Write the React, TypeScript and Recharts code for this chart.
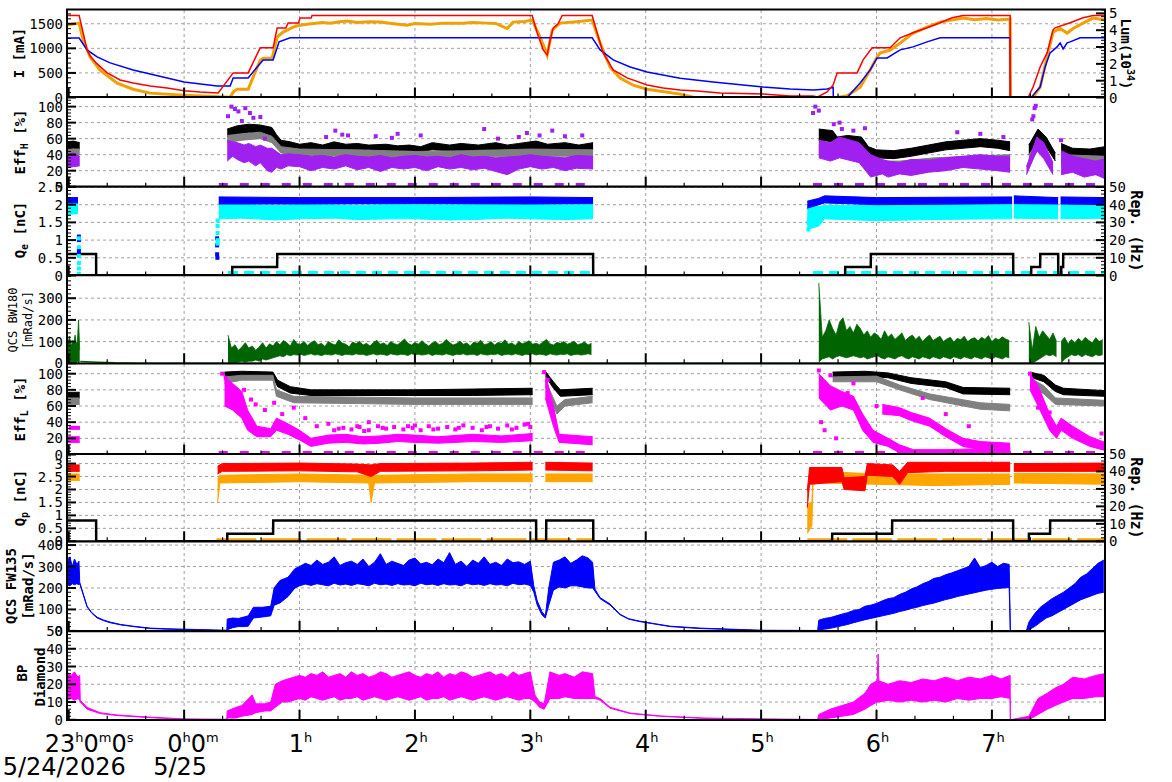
import React from 'react';
import { ComposedChart, Line, Area, XAxis, YAxis, CartesianGrid } from 'recharts';

type Pt = [number, number | null];
type Rg = [number, number | null, number | null];

// ---------------- time axis ----------------
const X_DOMAIN: [number, number] = [-1.015, 7.98];
const HOURS = [-1, 0, 1, 2, 3, 4, 5, 6, 7];
const GRID_HOURS = [0, 1, 2, 3, 4, 5, 6, 7];
const X_TICKS = [-1, -2 / 3, -1 / 3, 0, 1 / 3, 2 / 3, 1, 4 / 3, 5 / 3, 2, 7 / 3, 8 / 3, 3, 10 / 3, 11 / 3, 4, 13 / 3, 14 / 3, 5, 16 / 3, 17 / 3, 6, 19 / 3, 20 / 3, 7, 22 / 3, 23 / 3];
const HOUR_TEXT: [string, string][][] = [
  [['23', 'h'], ['0', 'm'], ['0', 's']],
  [['0', 'h'], ['0', 'm']],
  [['1', 'h']], [['2', 'h']], [['3', 'h']], [['4', 'h']], [['5', 'h']], [['6', 'h']], [['7', 'h']],
];
const DATE_TEXT = ['5/24/2026', '5/25'];

// ---------------- panel 1 : I [mA] / Lum ----------------
const lerCurrent: Pt[] = [
  [-1.015, 1670], [-0.91, 1670], [-0.875, 1316], [-0.841, 969], [-0.815, 850], [-0.763, 704], [-0.667, 500], [-0.555, 357], [-0.442, 296], [-0.295, 235], [-0.147, 194], [0, 139], [0.139, 112], [0.295, 92], [0.425, 500], [0.555, 500], [0.659, 1010], [0.771, 1010], [0.806, 1412], [0.88, 1412], [0.901, 1514], [0.99, 1514], [1.005, 1616], [1.1, 1616], [1.109, 1669],
  [3.016, 1669], [3.059, 1316], [3.111, 969], [3.146, 867], [3.172, 1173], [3.198, 1412], [3.24, 1500], [3.276, 1669], [3.536, 1669], [3.579, 1316], [3.631, 908], [3.718, 561], [3.839, 398], [4.012, 255], [4.151, 194], [4.298, 155], [4.445, 133], [4.645, 92], [5.017, 71], [5.251, 31], [5.451, 31], [5.49, 12],
  [5.572, 112], [5.624, 255], [5.659, 500], [5.832, 500], [5.884, 765], [5.962, 1010], [6.118, 1010], [6.205, 1214], [6.317, 1316], [6.438, 1418], [6.551, 1520], [6.655, 1622], [6.75, 1669], [7.158, 1669], [7.16, 0], [7.314, 0], [7.357, 214], [7.418, 622], [7.478, 908], [7.53, 1377], [7.548, 1418], [7.678, 1520], [7.79, 1622], [7.877, 1669], [7.98, 1669],
];
const herCurrent: Pt[] = [
  [-1.015, 1210], [-0.91, 1210], [-0.841, 969], [-0.754, 826], [-0.641, 704], [-0.442, 561], [-0.147, 398], [0, 316], [0.286, 235], [0.399, 235], [0.425, 398], [0.555, 398], [0.633, 622], [0.685, 765], [0.771, 765], [0.823, 1132], [0.919, 1214],
  [3.536, 1214], [3.605, 969], [3.718, 765], [3.865, 622], [4.012, 520], [4.298, 390], [4.584, 316], [5.017, 214], [5.251, 173], [5.451, 153], [5.572, 173], [5.624, 210], [5.626, 0], [5.745, 0],
  [5.858, 296], [5.945, 561], [6.005, 806], [6.092, 806], [6.205, 969], [6.317, 1030], [6.438, 1132], [6.551, 1214], [7.158, 1214], [7.16, 0], [7.34, 0], [7.418, 214], [7.461, 622], [7.504, 908], [7.565, 1030], [7.591, 1112], [7.617, 989], [7.652, 1112], [7.678, 1132], [7.764, 1214], [7.98, 1214],
];
const luminosity: Pt[] = [
  [-1.015, 4.3], [-0.91, 4.42], [-0.875, 3.41], [-0.815, 2.4], [-0.728, 1.63], [-0.581, 0.85], [-0.442, 0.49], [-0.295, 0.26], [0, 0.14], [0.399, 0.02], [0.425, 0.32], [0.459, 0.49], [0.555, 0.49], [0.598, 1.21], [0.659, 2.22], [0.685, 2.34], [0.763, 2.34], [0.806, 3.59], [0.858, 3.89], [0.945, 4.18],
  [1.005, 4.3], [1.1, 4.38], [1.2, 4.45], [1.265, 4.42], [1.35, 4.5], [1.412, 4.54], [1.5, 4.46], [1.6, 4.5], [1.698, 4.48], [1.8, 4.4], [1.932, 4.3], [2.0, 4.4], [2.132, 4.36], [2.25, 4.42], [2.418, 4.42], [2.5, 4.46], [2.626, 4.42], [2.7, 4.4], [2.799, 4.1], [2.851, 4.48], [2.95, 4.52], [3.016, 4.6],
  [3.085, 3.59], [3.146, 2.52], [3.189, 4.0], [3.258, 4.42], [3.4, 4.5], [3.536, 4.6], [3.605, 3.23], [3.692, 1.8], [3.778, 1.15], [3.891, 0.73], [4.012, 0.49], [4.298, 0.2], [4.411, 0.02], [4.42, null],
  [5.277, 0], [5.537, 0], [5.55, null], [5.659, 0], [5.745, 0.1], [5.858, 0.61], [5.945, 1.63], [6.005, 2.4], [6.031, 2.64], [6.118, 2.82], [6.205, 3.23], [6.317, 3.83], [6.438, 4.18], [6.551, 4.48], [6.75, 4.72], [6.85, 4.62], [6.95, 4.7], [7.05, 4.6], [7.158, 4.66],
  [7.16, 0], [7.314, 0], [7.357, 0.02], [7.418, 0.61], [7.478, 2.4], [7.53, 3.89], [7.591, 4.1], [7.652, 3.83], [7.704, 4.1], [7.79, 4.42], [7.877, 4.72], [7.98, 4.6],
];

// ---------------- panel 2 : Eff_H ----------------
const effHBlack: Rg[] = [
  [-1.015, 47, 56], [-0.96, 48, 57], [-0.905, 47, 55], [-0.9, null, null],
  [0.373, 62, 72], [0.46, 66, 76], [0.56, 68, 78], [0.66, 67, 77], [0.76, 62, 74], [0.8, 55, 65], [0.84, 49, 58], [0.92, 47, 56], [1.0, 46, 53], [1.1, 46, 55], [1.2, 45, 52], [1.3, 47, 56], [1.4, 45, 53], [1.5, 45, 54], [1.6, 46, 52], [1.75, 44, 53], [1.85, 45, 51], [1.95, 45, 52], [2.05, 44, 50], [2.15, 46, 55], [2.3, 45, 52], [2.4, 45, 54], [2.55, 46, 52], [2.7, 46, 55], [2.8, 45, 52], [2.9, 45, 54], [3.05, 47, 57], [3.15, 46, 53], [3.3, 45, 55], [3.42, 46, 52], [3.544, 46, 55], [3.55, null, null],
  [5.5, 58, 72], [5.62, 56, 70], [5.66, 52, 62], [5.75, 52, 64], [5.87, 50, 62], [5.93, 40, 50], [6.0, 36, 46], [6.15, 35, 45], [6.3, 38, 48], [6.45, 42, 52], [6.6, 46, 56], [6.75, 48, 58], [6.9, 50, 60], [7.05, 48, 58], [7.158, 45, 56], [7.16, null, null],
  [7.32, 40, 52], [7.4, 60, 72], [7.47, 50, 62], [7.55, 32, 42], [7.57, null, null],
  [7.6, 42, 54], [7.7, 38, 48], [7.85, 36, 47], [7.98, 38, 50],
];
const effHGray: Rg[] = [
  [-1.015, 39, 47], [-0.905, 40, 47], [-0.9, null, null],
  [0.373, 55, 64], [0.5, 58, 66], [0.66, 60, 68], [0.76, 55, 63], [0.84, 42, 50], [1.0, 39, 47], [1.5, 38, 46], [2.0, 36, 44], [2.5, 37, 45], [3.0, 38, 47], [3.544, 38, 46], [3.55, null, null],
  [5.5, 42, 52], [5.7, 42, 50], [5.87, 35, 45], [5.95, 22, 32], [6.2, 24, 32], [6.5, 28, 36], [6.8, 30, 38], [7.158, 30, 40], [7.16, null, null],
  [7.32, 30, 40], [7.4, 45, 55], [7.5, 30, 40], [7.55, null, null],
  [7.6, 28, 40], [7.98, 28, 38],
];
const effHPurple: Rg[] = [
  [-1.015, 24, 40], [-0.96, 25, 42], [-0.905, 26, 38], [-0.9, null, null],
  [0.373, 32, 58], [0.42, 38, 56], [0.46, 34, 55], [0.52, 30, 52], [0.56, 32, 54], [0.62, 26, 50], [0.66, 30, 52], [0.72, 20, 48], [0.76, 18, 48], [0.8, 24, 44], [0.84, 22, 40], [0.9, 26, 41], [1.0, 25, 40], [1.1, 20, 38], [1.2, 24, 39], [1.3, 22, 37], [1.4, 26, 40], [1.5, 21, 38], [1.6, 24, 37], [1.7, 19, 39], [1.8, 24, 36], [1.9, 22, 38], [2.0, 24, 39], [2.1, 20, 37], [2.2, 25, 38], [2.3, 22, 36], [2.4, 24, 40], [2.5, 21, 37], [2.6, 23, 38], [2.7, 19, 36], [2.8, 15, 37], [2.9, 22, 38], [3.0, 25, 40], [3.1, 22, 38], [3.2, 24, 37], [3.3, 20, 36], [3.4, 23, 39], [3.544, 22, 38], [3.55, null, null],
  [5.5, 36, 58], [5.6, 32, 55], [5.68, 36, 62], [5.85, 30, 55], [5.95, 12, 40], [6.05, 16, 34], [6.1, 12, 32], [6.2, 16, 30], [6.3, 14, 34], [6.45, 18, 33], [6.6, 20, 36], [6.75, 24, 38], [6.9, 22, 40], [7.05, 20, 38], [7.158, 18, 38], [7.16, null, null],
  [7.3, 15, 25], [7.39, 45, 62], [7.45, 35, 55], [7.53, 15, 30], [7.55, null, null],
  [7.6, 15, 45], [7.7, 18, 38], [7.8, 12, 35], [7.9, 15, 32], [7.98, 10, 35],
];
const effHPurpleOutliers: Pt[] = [
  [0.38, 88], [0.41, 100], [0.44, 97], [0.47, 94], [0.5, 82], [0.53, 98], [0.57, 92], [0.6, 86], [0.66, 87], [0.7, 60], [1.23, 62], [1.31, 70], [1.37, 65], [1.42, 64], [1.66, 63], [1.8, 61], [1.85, 66], [2.05, 64], [2.6, 72], [2.72, 60], [2.9, 62], [2.97, 67], [3.08, 64], [3.19, 70], [3.3, 63], [3.45, 64],
  [5.45, 92], [5.47, 100], [5.5, 95], [5.63, 78], [5.68, 80], [5.7, 72], [5.8, 70], [5.9, 73], [6.7, 68], [6.9, 66], [7.1, 62], [7.35, 84], [7.36, 88], [7.37, 98], [7.38, 101], [7.6, 58],
];
const effHPurpleFloor: Pt[] = [[0.3, 2], [3.55, 2], [3.56, null], [5.45, 2], [7.98, 2]];

// ---------------- panel 3 : Q_e / Rep ----------------
const qeCyan: Rg[] = [
  [-1.015, 1.72, 2.05], [-0.92, 1.75, 2.05], [-0.915, null, null],
  [0.3, 1.6, 2.0], [0.5, 1.62, 2.0], [0.8, 1.57, 1.98], [1.0, 1.6, 2.0], [1.3, 1.62, 1.99], [1.5, 1.58, 1.98], [1.8, 1.6, 2.0], [2.0, 1.6, 2.0], [2.3, 1.57, 1.99], [2.5, 1.58, 2.0], [2.8, 1.62, 2.0], [3.0, 1.6, 2.0], [3.3, 1.58, 1.99], [3.544, 1.6, 2.0], [3.55, null, null],
  [5.4, 1.3, 2.0], [5.5, 1.4, 1.95], [5.55, 1.6, 1.98], [6.0, 1.55, 1.98], [6.5, 1.58, 2.0], [7.0, 1.6, 2.0], [7.175, 1.6, 2.0], [7.18, null, null],
  [7.19, 1.62, 2.02], [7.574, 1.6, 2.0], [7.58, null, null], [7.595, 1.6, 2.0], [7.98, 1.62, 2.0],
];
const qeBlue: Rg[] = [
  [-1.015, 2.05, 2.2], [-0.92, 2.05, 2.2], [-0.915, null, null],
  [0.3, 2.02, 2.22], [1.0, 2.02, 2.2], [2.0, 2.03, 2.2], [3.0, 2.02, 2.22], [3.544, 2.03, 2.2], [3.55, null, null],
  [5.4, 1.9, 2.1], [5.5, 2.0, 2.18], [5.55, 2.05, 2.25], [6.0, 2.0, 2.2], [7.175, 2.03, 2.22], [7.18, null, null],
  [7.19, 2.03, 2.25], [7.574, 2.02, 2.2], [7.58, null, null], [7.595, 2.02, 2.22], [7.98, 2.0, 2.2],
];
const qeBlueOutliers: Pt[] = [[-0.912, 1.1], [-0.912, 1.0], [-0.912, 0.7], [-0.912, 0.6], [0.286, 1.05], [0.286, 0.85], [0.286, 0.6], [0.288, 0.5]];
const qeCyanOutliers: Pt[] = [[-0.912, 1.05], [-0.912, 0.8], [-0.912, 0.55], [-0.912, 0.35], [-0.912, 0.2], [-0.912, 0.05], [0.29, 1.55], [0.29, 1.4], [0.29, 1.2], [0.29, 1.0], [0.29, 0.9], [5.41, 1.3], [5.41, 1.5], [5.42, 1.6]];
const qeCyanFloor: Pt[] = [[0.38, 0.07], [3.544, 0.07], [3.55, null], [5.45, 0.07], [7.98, 0.07]];
const repE: Pt[] = [
  [-1.015, 12.1], [-0.763, 12.1], [-0.762, 0], [0.416, 0], [0.417, 4.8], [0.806, 4.8], [0.807, 12.1], [3.544, 12.1], [3.545, 0], [5.728, 0], [5.729, 4.8], [5.95, 4.8], [5.951, 12.1], [7.184, 12.1], [7.185, 0], [7.34, 0], [7.341, 4.8], [7.418, 4.8], [7.419, 12.1], [7.574, 12.1], [7.575, 0], [7.6, 0], [7.601, 4.8], [7.617, 4.8], [7.618, 12.1], [7.98, 12.1],
];

// ---------------- panel 4 : QCS BW180 (sampled segments: low / high) ----------------
const bw180Seg1Hi = [110, 95, 125, 100, 80, 105, 95, 130, 90, 100, 200, 60];
const bw180Seg1Lo = [0, 10, 0, 5, 0, 10, 0, 5, 0, 10, 0, 5];
const bw180Seg2Hi = [130, 70, 85, 60, 75, 95, 70, 80, 60, 75, 95, 70, 90, 80, 100, 85, 105, 95, 80, 110, 90, 88, 100, 82, 96, 104, 86, 92, 78, 100, 90, 84, 108, 94, 88, 76, 98, 90, 102, 84, 92, 80, 96, 106, 88, 94, 82, 100, 90, 86, 98, 112, 92, 84, 96, 88, 104, 90, 80, 94, 100, 86, 92, 110, 96, 84, 90, 102, 88, 94, 80, 98, 92, 106, 86, 90, 100, 84, 96, 92, 108, 88, 94, 82, 100, 90, 96, 104, 88, 92, 86, 98, 110, 90, 84, 96, 92, 100, 88, 94, 102, 86, 90, 98, 84, 92];
const bw180Seg2Lo = [0, 0, 0, 5, 10, 5, 10, 10, 15, 10, 20, 15, 20, 25, 30, 35, 30, 40, 35, 40, 38, 42, 36, 40, 44, 38, 40, 35, 42, 40, 38, 44, 40, 36, 42, 40, 38, 44, 40, 42, 36, 40, 44, 38, 42, 40, 36, 44, 40, 38, 42, 40, 36, 44, 40, 42, 38, 40, 44, 36, 42, 40, 38, 44, 40, 36, 42, 40, 44, 38, 40, 42, 36, 44, 40, 38, 42, 40, 44, 36, 40, 42, 38, 44, 40, 36, 42, 40, 44, 38, 42, 40, 36, 44, 40, 38, 42, 40, 44, 36, 40, 42, 38, 40, 44, 40];
const bw180Seg3Hi = [370, 120, 150, 200, 160, 130, 190, 210, 150, 170, 140, 180, 160, 130, 150, 120, 140, 130, 110, 150, 120, 135, 110, 125, 140, 105, 120, 130, 110, 125, 100, 118, 130, 105, 115, 125, 100, 112, 120, 98, 115, 108, 125, 100, 112, 118, 104, 120, 110, 128, 100, 115, 108, 122, 112, 105];
const bw180Seg3Lo = [5, 20, 25, 30, 20, 30, 35, 30, 25, 30, 35, 30, 25, 30, 20, 25, 30, 35, 25, 20, 30, 25, 20, 30, 35, 25, 20, 30, 25, 20, 30, 25, 20, 30, 25, 20, 30, 25, 20, 30, 25, 20, 30, 25, 20, 30, 25, 20, 30, 25, 20, 30, 25, 20, 30, 25];
const bw180Seg4Hi = [190, 60, 170, 120, 150, 130, 110, 140, 100];
const bw180Seg4Lo = [0, 0, 10, 20, 30, 40, 35, 40, 30];
const bw180Seg5Hi = [100, 120, 90, 110, 95, 115, 100, 120, 105, 95, 118, 100, 110];
const bw180Seg5Lo = [0, 20, 30, 40, 35, 40, 30, 40, 35, 30, 40, 35, 40];
const bw180Tail: Pt[] = [[-0.9, 8], [-0.75, 5], [-0.6, 2], [-0.4, 0.5], [0, 0], [7.98, 0]];

// ---------------- panel 5 : Eff_L ----------------
const effLBlack: Rg[] = [
  [-1.015, 70, 77], [-0.905, 70, 77], [-0.9, null, null],
  [0.35, 96, 102], [0.5, 97, 103], [0.77, 96, 102], [0.81, 84, 92], [0.92, 76, 84], [1.1, 73, 80], [1.5, 73, 80], [2.0, 73, 80], [2.5, 73, 81], [3.02, 74, 82], [3.03, null, null],
  [3.13, 97, 103], [3.2, 82, 90], [3.26, 72, 80], [3.54, 74, 82], [3.55, null, null],
  [5.62, 96, 102], [5.9, 97, 103], [6.1, 95, 101], [6.3, 88, 95], [6.6, 83, 90], [6.75, 75, 83], [7.158, 74, 82], [7.16, null, null],
  [7.33, 96, 102], [7.45, 90, 98], [7.55, 78, 86], [7.62, 74, 82], [7.98, 72, 79],
];
const effLGray: Rg[] = [
  [-1.015, 62, 70], [-0.905, 62, 70], [-0.9, null, null],
  [0.35, 88, 96], [0.5, 92, 98], [0.77, 92, 98], [0.8, 72, 80], [0.95, 64, 72], [1.5, 63, 71], [2.0, 62, 70], [3.02, 62, 70], [3.03, null, null],
  [3.13, 85, 92], [3.23, 50, 60], [3.3, 60, 68], [3.54, 64, 72], [3.55, null, null],
  [5.62, 90, 96], [6.0, 90, 97], [6.2, 80, 86], [6.46, 68, 75], [6.9, 56, 64], [7.158, 54, 62], [7.16, null, null],
  [7.33, 85, 95], [7.45, 75, 85], [7.55, 62, 70], [7.98, 60, 67],
];
const effLMagenta: Rg[] = [
  [-1.015, 15, 22], [-0.905, 15, 22], [-0.9, null, null],
  [0.35, 60, 96], [0.42, 55, 88], [0.5, 45, 78], [0.55, 30, 55], [0.63, 22, 35], [0.75, 22, 32], [0.8, 30, 45], [0.9, 25, 38], [1.0, 18, 30], [1.1, 10, 20], [1.25, 14, 24], [1.4, 15, 25], [1.55, 13, 22], [1.7, 14, 23], [1.85, 16, 25], [2.0, 15, 24], [2.2, 14, 22], [2.5, 16, 25], [2.75, 15, 23], [3.02, 17, 26], [3.03, null, null],
  [3.13, 70, 100], [3.2, 35, 60], [3.25, 15, 25], [3.54, 12, 22], [3.55, null, null],
  [5.5, 70, 100], [5.6, 55, 85], [5.7, 60, 78], [5.8, 55, 72], [5.88, 30, 50], [5.97, 15, 30], [6.1, 10, 20], [6.2, 2, 12], [6.32, 0, 6], [6.6, 0, 6], [7.158, 0, 8], [7.16, null, null],
  [7.33, 80, 100], [7.4, 60, 85], [7.5, 30, 50], [7.56, 20, 35], [7.6, 30, 45], [7.7, 20, 35], [7.85, 10, 22], [7.98, 5, 15],
];
const effLMagenta2: Rg[] = [
  [6.05, 50, 62], [6.2, 48, 58], [6.3, 42, 52], [6.46, 35, 45], [6.6, 22, 32], [6.75, 10, 20], [6.9, 6, 16], [7.158, 5, 14],
];
const effLMagentaOutliers: Pt[] = [
  [-0.98, 33], [-0.95, 33], [-0.92, 33], [0.33, 100], [0.36, 95], [0.45, 70], [0.52, 80], [0.58, 68], [0.62, 62], [0.7, 55], [0.78, 64], [0.85, 50], [0.95, 58], [1.05, 45], [1.15, 35], [1.25, 38], [1.5, 35], [1.6, 40], [2.0, 36], [3.12, 102], [3.15, 92],
  [1.3, 30], [1.38, 33], [1.45, 31], [1.52, 34], [1.6, 30], [1.68, 35], [1.75, 32], [1.82, 34], [1.9, 31], [1.98, 33], [2.05, 30], [2.12, 35], [2.2, 32], [2.28, 34], [2.35, 31], [2.42, 36], [2.5, 33], [2.58, 30], [2.65, 35], [2.72, 32], [2.8, 36], [2.88, 33], [2.95, 37], [3.0, 34],
  [1.34, 32], [1.56, 29], [1.72, 33], [1.94, 35], [2.16, 31], [2.38, 33], [2.62, 34], [2.84, 31], [2.98, 38],
  [5.5, 104], [5.52, 40], [5.55, 30], [5.6, 98], [5.65, 20], [5.75, 76], [5.8, 88], [6.0, 60], [6.2, 55], [6.4, 70], [6.6, 50], [6.8, 35], [7.33, 100], [7.4, 58], [7.5, 52], [7.95, 26],
];
const effLMagentaFloor: Pt[] = [[0.3, 2], [3.55, 2], [3.56, null], [5.45, 2], [7.98, 2]];

// ---------------- panel 6 : Q_p / Rep ----------------
const qpRed: Rg[] = [
  [-1.015, 2.7, 2.95], [-0.905, 2.7, 2.95], [-0.9, null, null],
  [0.29, 2.6, 2.9], [0.33, 2.7, 3.0], [1.0, 2.72, 3.02], [1.5, 2.68, 2.98], [1.62, 2.5, 2.95], [1.7, 2.7, 3.0], [2.5, 2.72, 3.02], [3.02, 2.75, 3.05], [3.03, null, null],
  [3.13, 2.75, 3.05], [3.54, 2.72, 3.02], [3.55, null, null],
  [5.4, 1.3, 1.95], [5.42, 2.2, 2.85], [5.7, 2.3, 2.85], [5.72, 2.0, 2.45], [5.9, 1.95, 2.5], [5.92, 2.55, 3.0], [6.14, 2.5, 2.95], [6.2, 2.2, 2.7], [6.27, 2.65, 3.05], [6.6, 2.7, 3.05], [7.158, 2.7, 3.05], [7.16, null, null],
  [7.19, 2.7, 3.0], [7.98, 2.7, 3.02],
];
const qpOrange: Rg[] = [
  [-1.015, 2.35, 2.6], [-0.905, 2.35, 2.6], [-0.9, null, null],
  [0.29, 1.5, 2.4], [0.31, 2.25, 2.55], [1.0, 2.3, 2.6], [1.6, 2.25, 2.55], [1.62, 1.5, 2.5], [1.65, 2.25, 2.55], [2.5, 2.3, 2.6], [3.02, 2.3, 2.6], [3.03, null, null],
  [3.13, 2.3, 2.6], [3.54, 2.3, 2.6], [3.55, null, null],
  [5.4, 0.3, 1.45], [5.44, 0.6, 1.5], [5.45, 2.2, 2.65], [5.5, 2.25, 2.7], [6.0, 2.2, 2.6], [6.5, 2.15, 2.6], [7.158, 2.2, 2.6], [7.16, null, null],
  [7.19, 2.25, 2.62], [7.98, 2.2, 2.6],
];
const qpOrangeFloor: Pt[] = [[0.28, 0.04], [3.55, 0.04], [3.56, null], [5.4, 0.04], [7.98, 0.04]];
const repP: Pt[] = [
  [-1.015, 11.85], [-0.763, 11.85], [-0.762, 0], [0.373, 0], [0.374, 4.3], [0.771, 4.3], [0.772, 11.85], [3.05, 11.85], [3.051, 0], [3.137, 0], [3.138, 11.85], [3.545, 11.85], [3.546, 0], [5.615, 0], [5.616, 4.3], [6.135, 4.3], [6.136, 11.85], [7.184, 11.85], [7.185, 0], [7.32, 0], [7.321, 4.3], [7.504, 4.3], [7.505, 11.85], [7.98, 11.85],
];

// ---------------- panel 7 : QCS FW135 ----------------
const fw135Start: Rg[] = [
  [-1.015, 215, 320], [-0.99, 210, 345], [-0.97, 220, 300], [-0.95, 215, 335], [-0.93, 220, 310], [-0.912, 215, 325], [-0.905, 220, 226], [-0.87, 160, 165], [-0.841, 111, 115], [-0.8, 82, 85], [-0.754, 60, 64], [-0.7, 48, 51], [-0.641, 38, 41], [-0.55, 28, 30], [-0.442, 20, 22], [-0.295, 11, 13], [-0.15, 8, 10], [0, 6, 8], [0.37, 1, 3],
  [0.373, 5, 55], [0.42, 15, 60], [0.47, 20, 58], [0.52, 20, 65], [0.555, 22, 70], [0.6, 60, 110], [0.68, 65, 110], [0.75, 70, 115], [0.78, 120, 200], [0.83, 130, 235], [0.9, 160, 250], [0.96, 200, 290],
];
const fw135PlateauHi = [300, 315, 305, 330, 310, 320, 345, 305, 318, 325, 310, 335, 300, 320, 360, 310, 325, 315, 305, 330, 340, 312, 320, 308, 335, 318, 365, 310, 325, 300, 330, 315, 345, 310, 320, 305, 335, 318, 322, 310, 325];
const fw135PlateauLo = [210, 218, 212, 220, 215, 210, 222, 214, 218, 212, 220, 216, 210, 222, 215, 218, 212, 220, 214, 216, 210, 222, 215, 218, 212, 220, 214, 216, 210, 222, 215, 218, 212, 220, 214, 216, 210, 222, 215, 218, 212];
const fw135Mid: Rg[] = [
  [3.03, 180, 210], [3.06, 120, 140], [3.1, 75, 90], [3.13, 60, 70], [3.16, 120, 200], [3.2, 190, 320], [3.25, 205, 330], [3.3, 200, 345], [3.35, 210, 315], [3.4, 210, 330], [3.45, 205, 350], [3.5, 200, 340], [3.54, 200, 320],
  [3.56, 185, 195], [3.605, 150, 155], [3.692, 120, 125], [3.778, 75, 78], [3.85, 55, 57], [3.952, 43, 45], [4.211, 20, 22], [4.471, 11, 13], [5.0, 2, 3], [5.49, 0, 2],
];
const fw135RampHi = [50, 58, 62, 70, 78, 85, 95, 100, 115, 120, 128, 140, 150, 155, 170, 180, 195, 205, 220, 230, 245, 250, 262, 270, 280, 290, 300, 340, 295, 305, 320, 300, 315, 310];
const fw135RampLo = [5, 8, 12, 18, 24, 30, 38, 45, 52, 58, 64, 70, 76, 82, 90, 96, 104, 110, 118, 124, 130, 138, 146, 152, 160, 166, 172, 178, 184, 190, 194, 198, 200, 202];
const fw135Ramp2Hi = [40, 80, 110, 130, 150, 165, 180, 200, 220, 250, 265, 290, 315, 330];
const fw135Ramp2Lo = [5, 20, 40, 60, 70, 85, 100, 115, 130, 145, 155, 165, 175, 180];

// ---------------- panel 8 : BP Diamond ----------------
const bpStart: Rg[] = [
  [-1.015, 11, 27], [-0.98, 12, 25], [-0.95, 11, 27], [-0.92, 12, 24], [-0.905, 11, 25], [-0.9, 10, 11], [-0.841, 6, 7], [-0.728, 3.5, 4], [-0.581, 2.4, 2.7], [-0.295, 1.2, 1.5], [0, 0.3, 0.5], [0.37, 0, 0.3],
  [0.373, 1, 5], [0.45, 1, 7], [0.5, 2, 8], [0.59, 3, 14], [0.62, 4, 9], [0.7, 5, 9], [0.75, 5, 10], [0.79, 7, 20], [0.85, 10, 22], [0.9, 10, 23], [0.95, 11, 24],
];
const bpPlateauHi = [25, 24, 26, 25, 27, 24, 25, 26, 24, 27, 25, 26, 24, 25, 27, 26, 24, 25, 26, 27, 25, 24, 26, 25, 27, 24, 26, 25, 27, 26, 24, 25, 26, 27, 25, 26, 24, 27, 25, 26, 27];
const bpPlateauLo = [12, 11, 13, 12, 11, 12, 13, 11, 12, 12, 13, 11, 12, 13, 12, 11, 12, 13, 12, 11, 12, 13, 11, 12, 12, 13, 11, 12, 13, 12, 11, 12, 13, 12, 11, 12, 13, 12, 11, 12, 12];
const bpRest: Rg[] = [
  [3.04, 10, 14], [3.08, 7, 10], [3.12, 6, 9], [3.17, 12, 27], [3.25, 12, 25], [3.3, 13, 26], [3.38, 12, 24], [3.45, 12, 27], [3.54, 12, 26],
  [3.56, 12, 13], [3.605, 11, 12], [3.692, 6.5, 7], [3.865, 3.5, 3.8], [4.12, 2, 2.2], [4.5, 0.8, 1], [5.0, 0.3, 0.5], [5.49, 0, 0.2],
  [5.5, 0, 3], [5.6, 1, 6], [5.7, 2, 8], [5.8, 3, 10], [5.9, 6, 15], [5.95, 8, 20], [6.005, 10, 22], [6.014, 10, 37], [6.02, 10, 22], [6.1, 11, 20], [6.2, 10, 22], [6.3, 11, 21], [6.4, 10, 23], [6.5, 11, 22], [6.6, 10, 24], [6.7, 12, 22], [6.8, 11, 24], [6.9, 12, 23], [7.0, 12, 25], [7.08, 13, 23], [7.158, 12, 25], [7.16, 0, 0], [7.32, 0, 2],
  [7.4, 3, 12], [7.48, 6, 15], [7.55, 8, 18], [7.62, 10, 20], [7.7, 12, 24], [7.8, 12, 23], [7.9, 13, 25], [7.98, 13, 26],
];

// ---------------- layout / style ----------------
const W = 1172;
const PL = 67;
const PR = 1105;
const EDGES = [9.5, 97, 186.7, 275.2, 363.5, 454, 541.3, 631.2, 720];
const PAD = 12;
const MONO = "'DejaVu Sans Mono', monospace";
const SANS = "'DejaVu Sans', sans-serif";

const range = (a: number, b: number, s: number) => {
  const out: number[] = [];
  for (let i = 0; a + i * s <= b + 1e-9; i++) out.push(Math.round((a + i * s) * 1000) / 1000);
  return out;
};

const toLine = (pts: Pt[]) => pts.map(([t, v]) => ({ t, v }));
const toBand = (pts: Rg[]) => pts.map(([t, lo, hi]) => ({ t, r: lo === null || hi === null ? null : [lo, hi] }));
const sampled = (t0: number, dt: number, lo: number[], hi: number[]): Rg[] => hi.map((h, i) => [t0 + i * dt, lo[i] ?? 0, h] as Rg);

const band = (key: string, pts: Rg[], color: string, axis = 'L', sw = 1) => (
  <Area key={key} yAxisId={axis} type="linear" data={toBand(pts)} dataKey="r" stroke={color} strokeWidth={sw} fill={color} fillOpacity={1} dot={false} activeDot={false} isAnimationActive={false} connectNulls={false} />
);
const line = (key: string, pts: Pt[], color: string, width: number, axis = 'L', dash?: string) => (
  <Line key={key} yAxisId={axis} type="linear" data={toLine(pts)} dataKey="v" stroke={color} strokeWidth={width} strokeDasharray={dash} dot={false} activeDot={false} isAnimationActive={false} connectNulls={false} />
);
const squares = (key: string, pts: Pt[], color: string, size = 4, axis = 'L') => (
  <Line key={key} yAxisId={axis} type="linear" data={toLine(pts)} dataKey="v" stroke="none" activeDot={false} isAnimationActive={false}
    dot={(p: any) => <rect key={`${key}-${p.index}`} x={p.cx - size / 2} y={p.cy - size / 2} width={size} height={size} fill={color} />} />
);

const fmt = (v: number) => String(Math.round(v * 100) / 100);

const yTick = (side: 'L' | 'R', majors: number[]) => (p: any) => {
  const v = p.payload.value;
  const major = majors.some((m) => Math.abs(m - v) < 1e-6);
  const d = side === 'L' ? 1 : -1;
  const x = side === 'L' ? PL : PR;
  return (
    <g>
      <line x1={x} y1={p.y} x2={x + d * (major ? 9 : 4)} y2={p.y} stroke="#000" strokeWidth={major ? 2 : 1} />
      {major ? (
        <text x={x - d * 4} y={p.y + 5} textAnchor={side === 'L' ? 'end' : 'start'} fontFamily={MONO} fontSize={14} fill="#000">{fmt(v)}</text>
      ) : null}
    </g>
  );
};

const supText = (parts: [string, string][]) =>
  parts.flatMap(([a, s], k) => [
    <tspan key={`a${k}`} dy={k === 0 ? 0 : 10} fontSize={24}>{a}</tspan>,
    <tspan key={`s${k}`} dy={-10} fontSize={13}>{s}</tspan>,
  ]);

const xTick = (labels: boolean, bottom: number) => (p: any) => {
  const v = p.payload.value;
  const h = Math.round(v);
  const major = Math.abs(v - h) < 1e-6;
  const idx = HOURS.indexOf(h);
  let lab: any = null;
  if (labels && major && idx >= 0) {
    const anchor = idx <= 1 ? 'start' : 'middle';
    const lx = idx === 0 ? p.x - 24 : idx === 1 ? p.x - 17 : p.x + 1;
    lab = (
      <g>
        <text x={lx} y={bottom + 32} textAnchor={anchor} fontFamily={SANS} fontSize={24} fill="#000">{supText(HOUR_TEXT[idx])}</text>
        {DATE_TEXT[idx] ? (
          <text x={idx === 0 ? p.x - 66 : p.x - 31} y={bottom + 55} textAnchor="start" fontFamily={SANS} fontSize={24} fill="#000">{DATE_TEXT[idx]}</text>
        ) : null}
      </g>
    );
  }
  return (
    <g>
      <line x1={p.x} x2={p.x} y1={bottom} y2={bottom - (major ? 10 : 4)} stroke="#000" strokeWidth={major ? 2 : 1.2} />
      {lab}
    </g>
  );
};

type AxisCfg = { domain: [number, number]; ticks: number[]; majors: number[] };

function Panel(props: { i: number; yL: AxisCfg; yR?: AxisCfg; last?: boolean; children: any }) {
  const { i, yL, yR, last, children } = props;
  const top = EDGES[i];
  const h = EDGES[i + 1] - top;
  const mb = last ? 62 : PAD;
  const bottom = PAD + h;
  return (
    <div style={{ position: 'absolute', left: 0, top: top - PAD }}>
      <ComposedChart width={W} height={h + PAD + mb} margin={{ top: PAD, bottom: mb - 1, left: PL - 1, right: W - PR - 1 }}>
        <CartesianGrid yAxisId="L" horizontalValues={yL.majors} verticalValues={GRID_HOURS} stroke="#a0a0a0" strokeDasharray="3 3" />
        {children}
        <XAxis dataKey="t" type="number" domain={X_DOMAIN} ticks={X_TICKS} interval={0} allowDataOverflow tick={xTick(!!last, bottom)} tickLine={false} axisLine={false} tickSize={0} tickMargin={0} height={1} />
        <YAxis yAxisId="L" type="number" domain={yL.domain} ticks={yL.ticks} interval={0} allowDataOverflow tick={yTick('L', yL.majors)} tickLine={false} axisLine={false} tickSize={0} tickMargin={0} width={1} />
        <YAxis yAxisId="R" orientation="right" type="number" domain={yR ? yR.domain : [0, 1]} ticks={yR ? yR.ticks : []} interval={0} allowDataOverflow tick={yR ? yTick('R', yR.majors) : false} tickLine={false} axisLine={false} tickSize={0} tickMargin={0} width={1} />
      </ComposedChart>
    </div>
  );
}

const EFF_AXIS: AxisCfg = { domain: [0, 112], ticks: range(0, 108, 4), majors: [0, 20, 40, 60, 80, 100] };
const REP_AXIS: AxisCfg = { domain: [0, 50], ticks: range(0, 50, 2), majors: [0, 10, 20, 30, 40, 50] };

function VTitle({ x, y, rot = -90, size = 14, bold = true, children }: any) {
  return (
    <text x={x} y={y} transform={`rotate(${rot} ${x} ${y})`} textAnchor="middle" dominantBaseline="central" fontFamily={MONO} fontSize={size} fontWeight={bold ? 'bold' : 'normal'} fill="#000">
      {children}
    </text>
  );
}

export default function App() {
  const bw180: Rg[] = [
    ...sampled(-1.015, 0.01, bw180Seg1Lo, bw180Seg1Hi), [-0.89, null, null],
    ...sampled(0.38, 0.03, bw180Seg2Lo, bw180Seg2Hi), [3.56, null, null],
    ...sampled(5.5, 0.03, bw180Seg3Lo, bw180Seg3Hi), [7.17, null, null],
    ...sampled(7.32, 0.03, bw180Seg4Lo, bw180Seg4Hi), [7.58, null, null],
    ...sampled(7.6, 0.03, bw180Seg5Lo, bw180Seg5Hi),
  ];
  const fw135: Rg[] = [
    ...fw135Start,
    ...sampled(1.0, 0.05, fw135PlateauLo, fw135PlateauHi),
    ...fw135Mid,
    ...sampled(5.5, 0.05, fw135RampLo, fw135RampHi),
    [7.16, 0, 0], [7.3, 0, 2],
    ...sampled(7.32, 0.05, fw135Ramp2Lo, fw135Ramp2Hi),
  ];
  const bp: Rg[] = [...bpStart, ...sampled(1.0, 0.05, bpPlateauLo, bpPlateauHi), ...bpRest];
  return (
    <div style={{ position: 'absolute', left: 0, top: 0, width: W, height: 782, background: '#fff', overflow: 'hidden' }}>
      <Panel i={0} yL={{ domain: [0, 1780], ticks: range(0, 1700, 100), majors: [0, 500, 1000, 1500] }} yR={{ domain: [0, 5.2], ticks: range(0, 5.2, 0.2), majors: [0, 1, 2, 3, 4, 5] }}>
        {line('lum', luminosity, '#f0a000', 3, 'R')}
        {line('her', herCurrent, '#0000ff', 1.5)}
        {line('ler', lerCurrent, '#ff0000', 1.5)}
      </Panel>
      <Panel i={1} yL={EFF_AXIS}>
        {band('hb', effHBlack, '#000000')}
        {band('hg', effHGray, '#808080')}
        {band('hp', effHPurple, '#a020f0')}
        {squares('hpo', effHPurpleOutliers, '#a020f0')}
        {line('hpf', effHPurpleFloor, '#a020f0', 4, 'L', '9 12')}
      </Panel>
      <Panel i={2} yL={{ domain: [0, 2.5], ticks: range(0, 2.5, 0.1), majors: [0, 0.5, 1, 1.5, 2, 2.5] }} yR={REP_AXIS}>
        {band('qc', qeCyan, '#00ffff')}
        {band('qb', qeBlue, '#0000ff')}
        {squares('qbo', qeBlueOutliers, '#0000ff')}
        {squares('qco', qeCyanOutliers, '#00ffff')}
        {line('qcf', qeCyanFloor, '#00ffff', 4, 'L', '10 6')}
        {line('repE', repE, '#000000', 2.5, 'R')}
      </Panel>
      <Panel i={3} yL={{ domain: [0, 407], ticks: range(0, 400, 20), majors: [0, 100, 200, 300] }}>
        {band('bw', bw180, '#006400', 'L', 0.8)}
        {line('bwt', bw180Tail, '#006400', 1.5)}
      </Panel>
      <Panel i={4} yL={EFF_AXIS}>
        {band('lb', effLBlack, '#000000')}
        {band('lg', effLGray, '#808080')}
        {band('lm', effLMagenta, '#ff00ff')}
        {band('lm2', effLMagenta2, '#ff00ff')}
        {squares('lmo', effLMagentaOutliers, '#ff00ff')}
        {line('lmf', effLMagentaFloor, '#ff00ff', 4, 'L', '9 12')}
      </Panel>
      <Panel i={5} yL={{ domain: [0, 3.37], ticks: range(0, 3.3, 0.1), majors: [0, 0.5, 1, 1.5, 2, 2.5, 3] }} yR={REP_AXIS}>
        {band('po', qpOrange, '#ffa500')}
        {band('pr', qpRed, '#ff0000')}
        {line('pof', qpOrangeFloor, '#ffa500', 4, 'L', '40 5')}
        {line('repP', repP, '#000000', 2.5, 'R')}
      </Panel>
      <Panel i={6} yL={{ domain: [0, 419], ticks: range(0, 400, 20), majors: [0, 100, 200, 300, 400] }}>
        {band('fw', fw135, '#0000ff')}
      </Panel>
      <Panel i={7} last yL={{ domain: [0, 50], ticks: range(0, 50, 2), majors: [0, 10, 20, 30, 40, 50] }}>
        {band('bp', bp, '#ff00ff')}
      </Panel>
      <svg width={W} height={782} style={{ position: 'absolute', left: 0, top: 0, pointerEvents: 'none' }}>
        <rect x={PL} y={EDGES[0]} width={PR - PL} height={EDGES[8] - EDGES[0]} fill="none" stroke="#000" strokeWidth={2} />
        {EDGES.slice(1, 8).map((e) => (
          <line key={e} x1={PL} x2={PR} y1={e} y2={e} stroke="#000" strokeWidth={2.2} />
        ))}
        <VTitle x={19} y={53}>I [mA]</VTitle>
        <VTitle x={20} y={142}>Eff<tspan fontSize={10} dy={4}>H</tspan><tspan dy={-4}> [%]</tspan></VTitle>
        <VTitle x={20} y={230}>Q<tspan fontSize={10} dy={4}>e</tspan><tspan dy={-4}> [nC]</tspan></VTitle>
        <VTitle x={13} y={320} size={12} bold={false}>QCS BW180</VTitle>
        <VTitle x={28} y={320} size={12} bold={false}>[mRad/s]</VTitle>
        <VTitle x={20} y={409}>Eff<tspan fontSize={10} dy={4}>L</tspan><tspan dy={-4}> [%]</tspan></VTitle>
        <VTitle x={20} y={498}>Q<tspan fontSize={10} dy={4}>p</tspan><tspan dy={-4}> [nC]</tspan></VTitle>
        <VTitle x={11} y={586}>QCS FW135</VTitle>
        <VTitle x={28} y={586}>[mRad/s]</VTitle>
        <VTitle x={22} y={673}>BP</VTitle>
        <VTitle x={40} y={677}>Diamond</VTitle>
        <VTitle x={1126} y={54} rot={90}>Lum(10<tspan fontSize={10} dy={-5}>34</tspan><tspan dy={5}>)</tspan></VTitle>
        <VTitle x={1136} y={231} rot={90} size={15}>Rep. (Hz)</VTitle>
        <VTitle x={1136} y={498} rot={90} size={15}>Rep. (Hz)</VTitle>
      </svg>
    </div>
  );
}
